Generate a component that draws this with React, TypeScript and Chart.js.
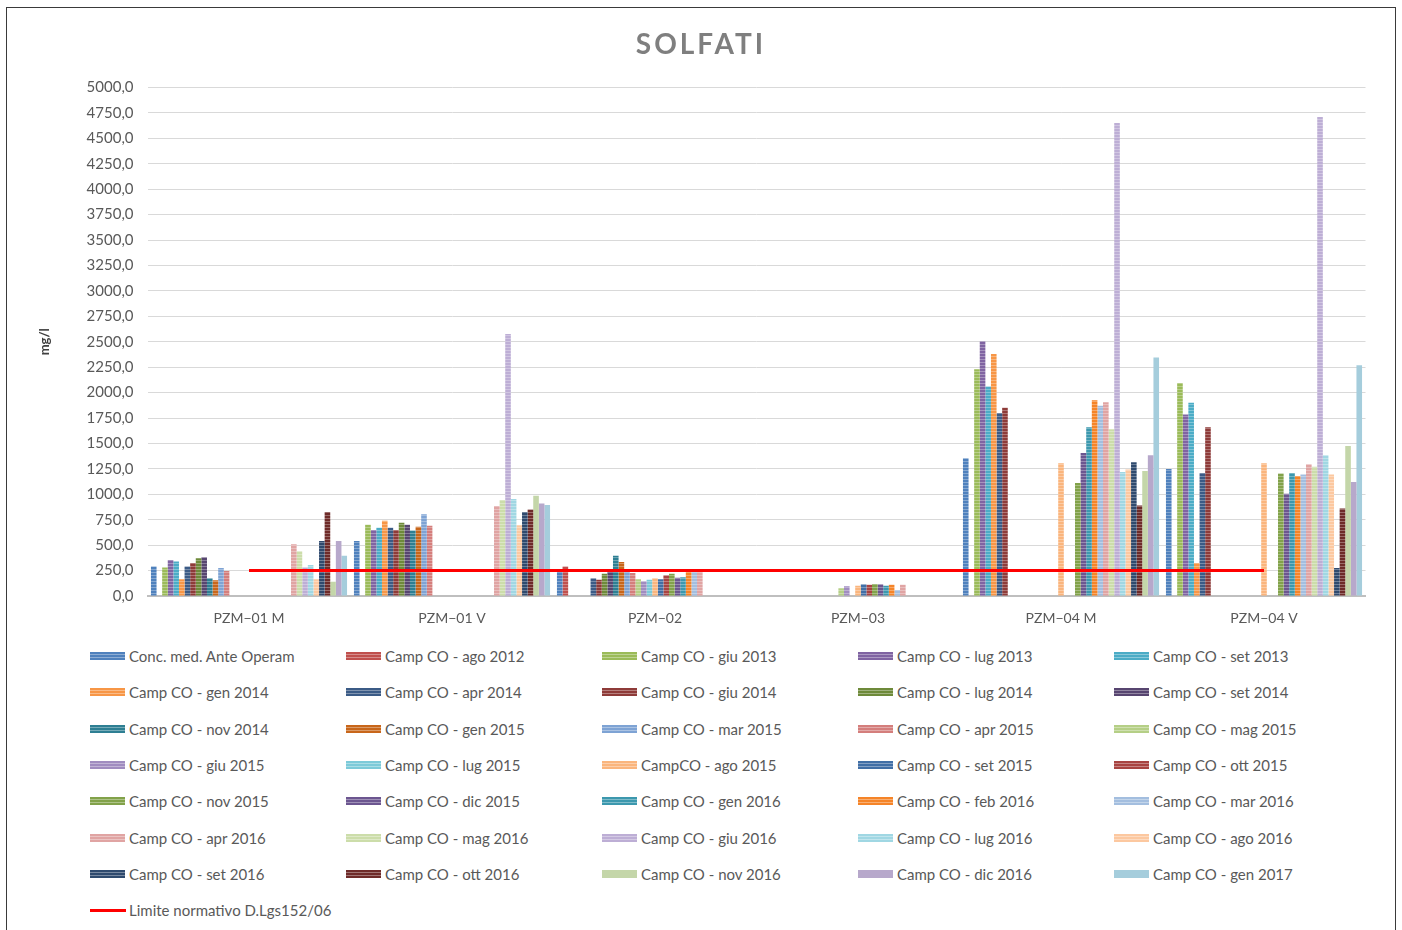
import React, { useEffect, useRef } from "react";
import { Chart, registerables } from "chart.js";

Chart.register(...registerables);

const CATEGORIES = ["PZM−01 M", "PZM−01 V", "PZM−02", "PZM−03", "PZM−04 M", "PZM−04 V"];

const SERIES_LABELS = [
  "Conc. med. Ante Operam", "Camp CO - ago 2012", "Camp CO - giu 2013", "Camp CO - lug 2013", "Camp CO - set 2013",
  "Camp CO - gen 2014", "Camp CO - apr 2014", "Camp CO - giu 2014", "Camp CO - lug 2014", "Camp CO - set 2014",
  "Camp CO - nov 2014", "Camp CO - gen 2015", "Camp CO - mar 2015", "Camp CO - apr 2015", "Camp CO - mag 2015",
  "Camp CO - giu 2015", "Camp CO - lug 2015", "CampCO - ago 2015", "Camp CO - set 2015", "Camp CO - ott 2015",
  "Camp CO - nov 2015", "Camp CO - dic 2015", "Camp CO - gen 2016", "Camp CO - feb 2016", "Camp CO - mar 2016",
  "Camp CO - apr 2016", "Camp CO - mag 2016", "Camp CO - giu 2016", "Camp CO - lug 2016", "Camp CO - ago 2016",
  "Camp CO - set 2016", "Camp CO - ott 2016", "Camp CO - nov 2016", "Camp CO - dic 2016", "Camp CO - gen 2017",
];

const SERIES_COLORS = [
  "#4F81BD", "#C0504D", "#9BBB59", "#8064A2", "#4BACC6",
  "#F79646", "#3B5B86", "#8E3B39", "#6E8A3A", "#574570",
  "#2E7F93", "#C8661A", "#7EA3D4", "#D47E7C", "#B5CF86",
  "#A08CC0", "#7CCAD9", "#FAB57D", "#416FA6", "#A84442",
  "#82A24A", "#6C5690", "#3C98AE", "#F58428", "#A3BEDF",
  "#E0A4A3", "#CCDDAA", "#BDAED5", "#A0D7E3", "#FCC8A0",
  "#2F4A6E", "#6E2B29", "#C4D6A9", "#B7A8CB", "#A5CDDC",
];

const SOLID_SWATCH = [false, false, false, false, false, false, false, false, false, false,
  false, false, false, false, false, false, false, false, false, false,
  false, false, false, false, false, false, false, false, false, false,
  false, false, true, true, true];

// values per station, one entry per series (null = not sampled)
const PZM01M = [290, null, 280, 355, 340, 165, 290, 325, 370, 380, 175, 155, 275, 245,
  null, null, null, null, null, null, null, null, null, null, null,
  510, 440, 280, 305, 165, 540, 825, 140, 540, 395];
const PZM01V = [540, null, 700, 650, 670, 740, 670, 650, 720, 700, 645, 680, 805, 690,
  null, null, null, null, null, null, null, null, null, null, null,
  885, 945, 2575, 955, 695, 825, 850, 985, 910, 895];
const PZM02 = [240, 290, null, null, null, null, 175, 160, 220, 235, 395, 335, 235, 225,
  165, 145, 160, 175, 165, 205, 220, 180, 185, 255, 250, 250,
  null, null, null, null, null, null, null, null, null];
const PZM03 = [null, null, null, null, null, null, null, null, null, null, null, null, null, null,
  75, 95, null, 100, 115, 110, 118, 115, 100, 110, 60, 110,
  null, null, null, null, null, null, null, null, null];
const PZM04M = [1355, null, 2230, 2505, 2060, 2380, 1800, 1850,
  null, null, null, null, null, null, null, null, null,
  1305, null, null, 1110, 1405, 1660, 1925, 1870, 1905, 1640, 4650, 1220, 1245, 1315, 890, 1230, 1385, 2345];
const PZM04V = [1250, null, 2095, 1785, 1900, 325, 1210, 1660,
  null, null, null, null, null, null, null, null, null,
  1305, null, null, 1205, 1005, 1210, 1180, 1195, 1295, 1270, 4710, 1385, 1195, 275, 860, 1475, 1120, 2270];

const STATIONS = [PZM01M, PZM01V, PZM02, PZM03, PZM04M, PZM04V];

const LIMIT_LABEL = "Limite normativo D.Lgs152/06";
const LIMIT_VALUES = [250, 250, 250, 250, 250, 250];

const Y_TICK_STEP = 250;
const Y_MAX = 5000;

const FONT = "Lato, 'Open Sans', sans-serif";

function lighten(hex: string, amt: number) {
  const n = parseInt(hex.slice(1), 16);
  const r = (n >> 16) & 255, g = (n >> 8) & 255, b = n & 255;
  const f = (c: number) => Math.round(c + (255 - c) * amt);
  return `rgb(${f(r)},${f(g)},${f(b)})`;
}

function makePattern(color: string, solid: boolean): CanvasPattern | string {
  if (solid) return color;
  const c = document.createElement("canvas");
  c.width = 4;
  c.height = 3;
  const ctx = c.getContext("2d")!;
  ctx.fillStyle = color;
  ctx.fillRect(0, 0, 4, 3);
  ctx.fillStyle = lighten(color, 0.3);
  ctx.fillRect(0, 2, 4, 1);
  return ctx.createPattern(c, "repeat")!;
}

export default function App() {
  const canvasRef = useRef<HTMLCanvasElement | null>(null);

  useEffect(() => {
    document.body.style.margin = "0";
    const canvas = canvasRef.current!;
    const barSets = SERIES_LABELS.map((label, i) => ({
      type: "bar" as const,
      label,
      data: STATIONS.map((s) => s[i]),
      backgroundColor: makePattern(SERIES_COLORS[i], SOLID_SWATCH[i]),
      borderWidth: 0,
      order: 1,
      categoryPercentage: 0.966,
      barPercentage: 1.0,
    }));
    const lineSet = {
      type: "line" as const,
      label: LIMIT_LABEL,
      data: LIMIT_VALUES,
      borderColor: "#FF0000",
      backgroundColor: "#FF0000",
      borderWidth: 3,
      pointRadius: 0,
      tension: 0,
      order: 0,
    };
    const chart = new Chart(canvas, {
      type: "bar",
      data: { labels: CATEGORIES, datasets: [...barSets, lineSet] as any },
      options: {
        animation: false,
        responsive: false,
        devicePixelRatio: 1,
        layout: { padding: { top: 87.5, right: 36.5, bottom: 0, left: 0 } },
        plugins: {
          legend: { display: false },
          title: { display: false },
          tooltip: { enabled: false },
        },
        scales: {
          x: {
            grid: { display: false },
            border: { display: true, color: "#BFBFBF", width: 2 },
            ticks: { color: "#595959", font: { family: FONT, size: 14 }, padding: 6, maxRotation: 0 },
            afterFit: (s: any) => { s.height = 44; },
          },
          y: {
            min: 0,
            max: Y_MAX,
            grid: { color: "#D9D9D9", drawTicks: false },
            border: { display: false },
            ticks: {
              stepSize: Y_TICK_STEP,
              color: "#595959",
              font: { family: FONT, size: 15 },
              padding: 14,
              callback: (v: any) => Number(v).toFixed(1).replace(".", ","),
            },
            title: {
              display: true,
              text: "mg/l",
              color: "#404040",
              font: { family: FONT, size: 13, weight: "bold" },
              padding: { top: 37, bottom: 0 },
            },
            afterFit: (s: any) => { s.width = 147.5; },
          },
        },
      },
    });
    return () => chart.destroy();
  }, []);

  const legendItems = SERIES_LABELS.map((label, i) => {
    const col = i % 5;
    const row = Math.floor(i / 5);
    const color = SERIES_COLORS[i];
    const bg = SOLID_SWATCH[i]
      ? color
      : `repeating-linear-gradient(to bottom, ${color} 0px, ${color} 2px, ${lighten(color, 0.35)} 2px, ${lighten(color, 0.35)} 3px)`;
    return (
      <div key={label} style={{ position: "absolute", left: 90 + col * 256, top: 656 + row * 36.3 - 10, height: 20, display: "flex", alignItems: "center", whiteSpace: "nowrap" }}>
        <span style={{ display: "inline-block", width: 35, height: 8, background: bg, marginRight: 4 }} />
        <span style={{ fontFamily: FONT, fontSize: 15, color: "#595959" }}>{label}</span>
      </div>
    );
  });

  return (
    <div style={{ position: "relative", width: 1402, height: 930, overflow: "hidden", background: "#fff" }}>
      <div style={{ position: "absolute", left: 6, top: 7, width: 1390, height: 940, border: "1.5px solid #3a3a3a", boxSizing: "border-box" }} />
      <canvas ref={canvasRef} width={1402} height={640} style={{ position: "absolute", left: 0, top: 0, width: 1402, height: 640 }} />
      <div style={{ position: "absolute", left: 0, top: 26, width: 1402, textAlign: "center", fontFamily: FONT, fontWeight: "bold", fontSize: 28, letterSpacing: 3, color: "#7F7F7F" }}>
        SOLFATI
      </div>
      {legendItems}
      <div style={{ position: "absolute", left: 90, top: 910 - 10, height: 20, display: "flex", alignItems: "center", whiteSpace: "nowrap" }}>
        <span style={{ display: "inline-block", width: 36, height: 3, background: "#FF0000", marginRight: 3 }} />
        <span style={{ fontFamily: FONT, fontSize: 15, color: "#595959" }}>{LIMIT_LABEL}</span>
      </div>
    </div>
  );
}
